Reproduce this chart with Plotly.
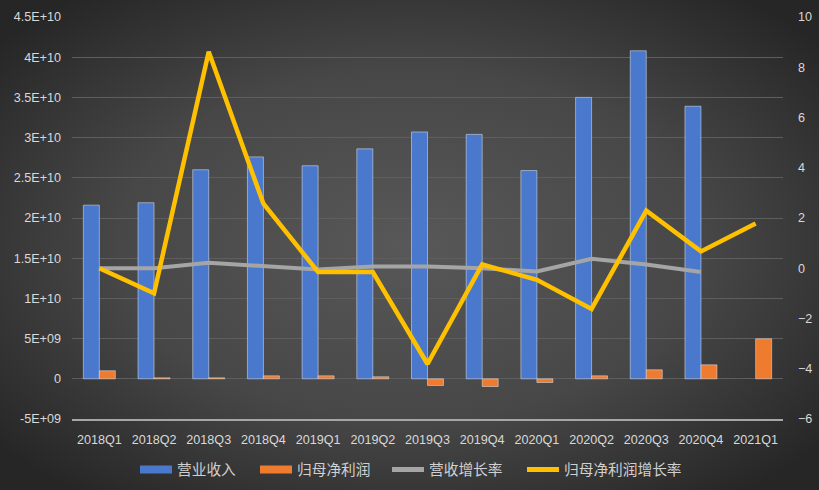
import base64
import plotly.graph_objects as go

categories = ["2018Q1", "2018Q2", "2018Q3", "2018Q4", "2019Q1", "2019Q2", "2019Q3",
              "2019Q4", "2020Q1", "2020Q2", "2020Q3", "2020Q4", "2021Q1"]
revenue = [2.16e10, 2.19e10, 2.60e10, 2.76e10, 2.65e10, 2.86e10, 3.07e10,
           3.04e10, 2.59e10, 3.50e10, 4.08e10, 3.39e10, None]
net_profit = [1.0e9, 0.12e9, 0.12e9, 0.37e9, 0.37e9, 0.25e9, -0.83e9,
              -0.96e9, -0.46e9, 0.37e9, 1.12e9, 1.74e9, 4.98e9]
revenue_growth = [0.0, 0.0, 0.22, 0.07, -0.05, 0.07, 0.07,
                  0.0, -0.13, 0.38, 0.15, -0.15, None]
profit_growth = [0.0, -1.0, 8.62, 2.57, -0.15, -0.15, -3.81,
                 0.15, -0.46, -1.62, 2.29, 0.67, 1.78]

left_tickvals = [-5e9, 0, 5e9, 1e10, 1.5e10, 2e10, 2.5e10, 3e10, 3.5e10, 4e10, 4.5e10]
left_ticktext = ["-5E+09", "0", "5E+09", "1E+10", "1.5E+10", "2E+10", "2.5E+10",
                 "3E+10", "3.5E+10", "4E+10", "4.5E+10"]
right_tickvals = [-6, -4, -2, 0, 2, 4, 6, 8, 10]

names = ["营业收入", "归母净利润", "营收增长率", "归母净利润增长率"]
colors = ["#4a78cc", "#ee7b2e", "#a5a5a5", "#ffc000"]

W, H = 819, 490
L, R, T, B = 72, 36, 17, 71
pw, ph = W - L - R, H - T - B

svg = f'''<svg xmlns="http://www.w3.org/2000/svg" width="{W}" height="{H}" viewBox="0 0 {W} {H}">
<defs><radialGradient id="g" cx="50%" cy="50%" r="65%">
<stop offset="0%" stop-color="#585858"/><stop offset="55%" stop-color="#474747"/>
<stop offset="100%" stop-color="#262626"/></radialGradient></defs>
<rect width="{W}" height="{H}" fill="url(#g)"/></svg>'''
bg = "data:image/svg+xml;base64," + base64.b64encode(svg.encode()).decode()

fig = go.Figure()
fig.add_trace(go.Bar(x=categories, y=revenue, name=names[0], marker_color=colors[0],
                     showlegend=False, legendgroup="a"))
fig.add_trace(go.Bar(x=categories, y=net_profit, name=names[1], marker_color=colors[1],
                     showlegend=False, legendgroup="b"))
fig.add_trace(go.Scatter(x=categories, y=revenue_growth, name=names[2], mode="lines",
                         line=dict(color=colors[2], width=4), yaxis="y2", showlegend=False,
                         legendgroup="c"))
fig.add_trace(go.Scatter(x=categories, y=profit_growth, name=names[3], mode="lines",
                         line=dict(color=colors[3], width=4.5), yaxis="y2", showlegend=False,
                         legendgroup="d"))

legend_ids = ["legend", "legend2", "legend3", "legend4"]
legend_x = [135, 255, 387, 522]  # left pixel of each legend box
for nm, c, g, w, lid in zip(names, colors, ["a", "b", "c", "d"], [8, 8, 5, 5], legend_ids):
    fig.add_trace(go.Scatter(x=[None], y=[None], name=nm, mode="lines",
                             line=dict(color=c, width=w), legendgroup=g, showlegend=True,
                             legend=lid))

legend_font = dict(family="Noto Sans CJK SC, sans-serif", size=14.7, color="#d0d0d0")
legend_layouts = {}
for lid, px in zip(legend_ids, legend_x):
    legend_layouts[lid] = dict(orientation="h", xref="container", yref="container",
                               x=px / W, y=1 - 470 / H, xanchor="left", yanchor="middle",
                               itemwidth=32, font=legend_font, bgcolor="rgba(0,0,0,0)")

tickfont = dict(family="Liberation Sans, Arial, sans-serif", size=12.6, color="#d9d9d9")
fig.update_layout(
    width=W, height=H,
    margin=dict(l=L, r=R, t=T, b=B, autoexpand=False),
    paper_bgcolor="#3c3c3c", plot_bgcolor="rgba(0,0,0,0)",
    barmode="group", bargap=0.415, bargroupgap=0,
    images=[dict(source=bg, xref="paper", yref="paper",
                 x=-L / pw, y=1 + T / ph, sizex=W / pw, sizey=H / ph,
                 xanchor="left", yanchor="top", sizing="stretch", layer="below")],
    xaxis=dict(type="category", showgrid=False, showline=True, linecolor="#a6a6a6",
               linewidth=1.5, tickfont=tickfont, ticks="", ticklabelstandoff=8,
               zeroline=False, automargin=False),
    yaxis=dict(range=[-5e9, 4.5e10], tickvals=left_tickvals, ticktext=left_ticktext,
               showgrid=True, gridcolor="#5e5e5e", gridwidth=1, zeroline=False,
               tickfont=tickfont, ticks="", ticklabelstandoff=10, automargin=False),
    yaxis2=dict(range=[-6, 10], tickvals=right_tickvals, overlaying="y", side="right",
                showgrid=False, zeroline=False, tickfont=tickfont, ticks="",
                ticklabelstandoff=14, automargin=False),
    showlegend=True,
    **legend_layouts,
)
fig.write_html("out.html")
